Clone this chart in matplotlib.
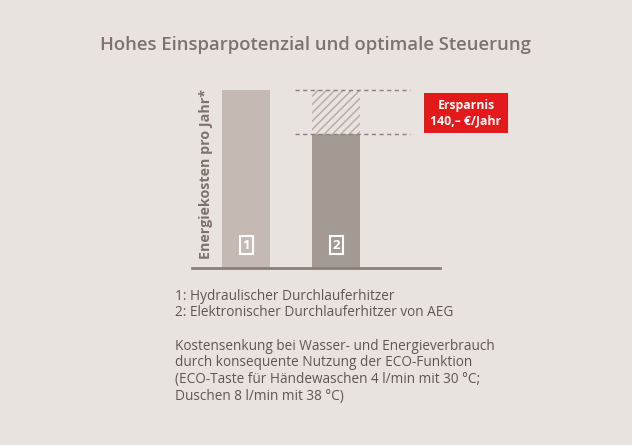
import matplotlib
matplotlib.use("Agg")
import matplotlib.pyplot as plt

categories = ["1", "2"]
costs = [566, 426]
savings_label = "Ersparnis\n140,– €/Jahr"
legend_lines = ["1: Hydraulischer Durchlauferhitzer", "2: Elektronischer Durchlauferhitzer von AEG"]
note_lines = ["Kostensenkung bei Wasser- und Energieverbrauch",
              "durch konsequente Nutzung der ECO-Funktion",
              "(ECO-Taste für Händewaschen 4 l/min mit 30 °C;",
              "Duschen 8 l/min mit 38 °C)"]

bg = "#e8e3df"
txt = "#7d736c"
plt.rcParams["font.family"] = "Open Sans"
W, H = 632, 445
fig = plt.figure(figsize=(W/100, H/100), dpi=100, facecolor=bg)
ax = fig.add_axes([192/W, (H-268)/H, 248/W, 188/H])
ax.set_facecolor(bg)
x = [0.6, 2.0]
colors = ["#c5bab3", "#a39a93"]
ax.bar(x, costs, width=0.75, color=colors)
ax.bar(x[1], costs[0]-costs[1], bottom=costs[1], width=0.75, color="none",
       edgecolor="#b5aba4", hatch="////", linewidth=0)
ax.set_xlim(-0.24, 3.61)
ax.set_ylim(0, 566*188/178)
for y in costs:
    ax.plot([1.36, 3.15], [y, y], ls=(0, (3, 2.5)), color="#8a807a", lw=1)
for xi, c in zip(x, categories):
    ax.text(xi, 72, c, ha="center", va="center", color="white", fontsize=9.5, fontweight="bold",
            bbox=dict(boxstyle="square,pad=0.2", fc="none", ec="white", lw=1.5))
for s in ["top", "right", "left"]:
    ax.spines[s].set_visible(False)
ax.spines["bottom"].set_color("#8a807a")
ax.spines["bottom"].set_linewidth(2)
ax.set_xticks([]); ax.set_yticks([])
ax.set_ylabel("Energiekosten pro Jahr*", color=txt, fontsize=10.3, fontweight="bold", labelpad=-15)

fig.text(316/W, 1-45/H, "Hohes Einsparpotenzial und optimale Steuerung", ha="center", va="center",
         fontsize=13.3, color=txt, fontweight="semibold")
fig.text(466/W, 1-113/H, savings_label, ha="center", va="center", fontsize=8.8, color="white",
         fontweight="bold", linespacing=1.2,
         bbox=dict(boxstyle="square,pad=0.5", fc="#e3191b", ec="none"))
for i, l in enumerate(legend_lines):
    fig.text(175/W, 1-(297+15.5*i)/H, l, fontsize=9.8, color="#5f5650", va="center")
for i, l in enumerate(note_lines):
    fig.text(175/W, 1-(346+16.7*i)/H, l, fontsize=9.8, color="#5f5650", va="center")
fig.savefig("out.png", dpi=100, facecolor=bg)
